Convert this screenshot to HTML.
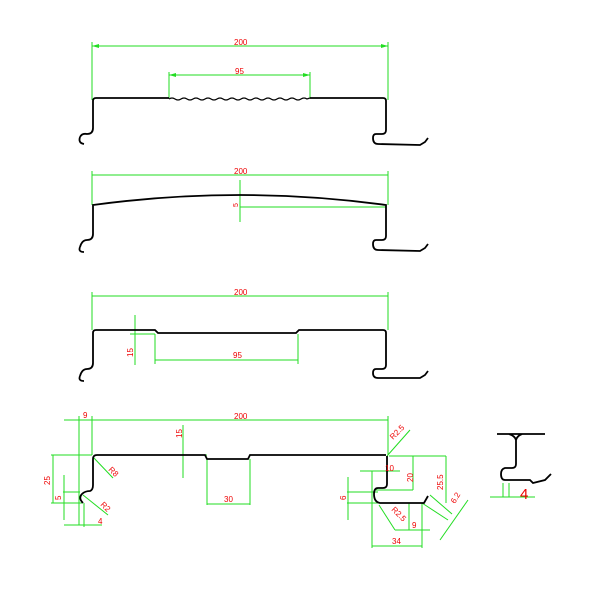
<!DOCTYPE html><html><head><style>body{margin:0;background:#fff}svg{display:block}text{font-family:"Liberation Sans",sans-serif;fill:#e00;font-size:8px}</style></head><body>
<svg width="600" height="600" viewBox="0 0 600 600" xmlns="http://www.w3.org/2000/svg">
<g stroke="#22dd22" stroke-width="1" fill="none">
<line x1="92" y1="46" x2="388" y2="46"/><line x1="92" y1="42" x2="92" y2="100"/><line x1="388" y1="42" x2="388" y2="100"/>
<line x1="169" y1="75" x2="310" y2="75"/><line x1="169" y1="72" x2="169" y2="98"/><line x1="310" y1="72" x2="310" y2="98"/>
<line x1="92" y1="175" x2="388" y2="175"/><line x1="92" y1="171" x2="92" y2="205"/><line x1="388" y1="171" x2="388" y2="205"/>
<line x1="240" y1="180" x2="240" y2="222"/><line x1="240" y1="207" x2="386" y2="207"/>
<line x1="92" y1="296" x2="388" y2="296"/><line x1="92" y1="292" x2="92" y2="330"/><line x1="388" y1="292" x2="388" y2="330"/>
<line x1="135" y1="315" x2="135" y2="365"/><line x1="130" y1="330" x2="155" y2="330"/><line x1="130" y1="334" x2="155" y2="334"/>
<line x1="155" y1="360" x2="298" y2="360"/><line x1="155" y1="334" x2="155" y2="364"/><line x1="298" y1="334" x2="298" y2="364"/>
<line x1="64" y1="420" x2="388" y2="420"/><line x1="79" y1="416" x2="79" y2="525"/><line x1="92" y1="416" x2="92" y2="455"/><line x1="388" y1="416" x2="388" y2="455"/>
<line x1="51" y1="455" x2="92" y2="455"/><line x1="53" y1="455" x2="53" y2="503"/><line x1="51" y1="503" x2="82" y2="503"/>
<line x1="63" y1="492" x2="80" y2="492"/><line x1="64" y1="475" x2="64" y2="520"/>
<line x1="64" y1="525" x2="102" y2="525"/><line x1="84" y1="503" x2="84" y2="527"/>
<line x1="93" y1="457" x2="113" y2="478"/><line x1="83" y1="495" x2="108" y2="515"/>
<line x1="183" y1="425" x2="183" y2="478"/><line x1="183" y1="455" x2="207" y2="455"/>
<line x1="207" y1="459" x2="207" y2="505"/><line x1="250" y1="459" x2="250" y2="505"/><line x1="207" y1="504" x2="250" y2="504"/>
<line x1="387" y1="456" x2="410" y2="430"/>
<line x1="389" y1="456" x2="446" y2="456"/><line x1="413" y1="456" x2="413" y2="490"/><line x1="374" y1="490" x2="413" y2="490"/>
<line x1="446" y1="456" x2="446" y2="503"/>
<line x1="360" y1="471" x2="400" y2="471"/><line x1="372" y1="471" x2="372" y2="548"/>
<line x1="347" y1="492" x2="378" y2="492"/><line x1="347" y1="503" x2="378" y2="503"/><line x1="348" y1="477" x2="348" y2="520"/>
<line x1="379" y1="505" x2="395" y2="530"/><line x1="395" y1="530" x2="430" y2="530"/>
<line x1="409" y1="503" x2="409" y2="530"/><line x1="422" y1="503" x2="422" y2="548"/><line x1="372" y1="546" x2="422" y2="546"/>
<line x1="422" y1="503" x2="448" y2="520"/><line x1="430" y1="495" x2="452" y2="514"/><line x1="440" y1="540" x2="468" y2="500"/>
<line x1="490" y1="497" x2="535" y2="497"/><line x1="503" y1="483" x2="503" y2="497"/><line x1="509" y1="483" x2="509" y2="497"/>
</g>
<g fill="#22dd22">
<path d="M92,46 l7,-2 v4z M388,46 l-7,-2 v4z M169,75 l7,-2 v4z M310,75 l-7,-2 v4z"/>
</g>
<g stroke="#000" stroke-width="1.8" fill="none">
<path d="M80,137 Q82,133 87,134 Q93,134 93,128 L93,101 Q93,98 96,98 L169,98"/>
<path d="M169,99 q3,-2 6,0 t6,0 t6,0 t6,0 t6,0 t6,0 t6,0 t6,0 t6,0 t6,0 t6,0 t6,0 t6,0 t6,0 t6,0 t6,0 t6,0 t6,0 t6,0 t6,0 t6,0 t6,0 t6,0 l3,-1" stroke-width="1.2"/>
<path d="M310,98 L383,98 Q386,98 386,101 L386,130 Q386,134 382,134 L376,134 Q373,134 373,138 Q373,144 378,144 L420,145 L425,142 L428,138"/>
<path d="M80,137 Q78,143 84,144"/>
<path d="M80,247 Q82,240 87,240 Q93,240 93,234 L93,205 Q240,185 386,205 L386,236 Q386,240 382,240 L376,240 Q373,240 373,244 Q373,250 378,250 L420,251 L425,248 L428,244"/>
<path d="M80,247 Q78,252 84,252"/>
<path d="M80,376 Q82,369 87,369 Q93,369 93,363 L93,333 Q93,330 96,330 L155,330 L158,333 L296,333 L299,330 L383,330 Q386,330 386,333 L386,365 Q386,369 382,369 L376,369 Q373,369 373,373 Q373,378 378,378 L420,378 L425,375 L428,371"/>
<path d="M80,376 Q78,381 84,381"/>
<path d="M83,503 Q78,498 82,494 Q85,491 90,491 Q93,490 93,485 L93,459 Q93,455 97,455 L205,455 L207,459 L248,459 L250,455 L386,455"/>
<path d="M387,456 L387,484 Q387,488 383,488 L378,488 Q374,488 374,494 Q374,502 380,503 L409,503 M409,503 L424,503 L428,496"/>
<path d="M497,434 L545,434 M509,434 Q515,436 516,440 Q517,436 522,434 M516,440 L516,464 Q516,468 512,468 L505,468 Q501,469 501,474 Q501,480 505,480 L530,480 L533,483 L545,480 L551,474"/>
</g>
<text x="234" y="45">200</text><text x="235" y="74">95</text>
<text x="234" y="174">200</text><text x="238" y="207" transform="rotate(-90 238 207)" style="font-size:7px">5</text>
<text x="234" y="295">200</text><text x="233" y="358">95</text>
<text x="133" y="357" transform="rotate(-90 133 357)">15</text>
<text x="234" y="419">200</text><text x="83" y="418">9</text>
<text x="50" y="485" transform="rotate(-90 50 485)">25</text><text x="61" y="500" transform="rotate(-90 61 500)">5</text>
<text x="98" y="524">4</text><text x="108" y="470" transform="rotate(45 108 470)">R8</text><text x="100" y="505" transform="rotate(45 100 505)">R2</text>
<text x="182" y="438" transform="rotate(-90 182 438)">15</text><text x="224" y="502">30</text>
<text x="393" y="440" transform="rotate(-45 393 440)">R2.5</text><text x="385" y="471">10</text>
<text x="413" y="482" transform="rotate(-90 413 482)">20</text><text x="443" y="490" transform="rotate(-90 443 490)">25.5</text>
<text x="346" y="500" transform="rotate(-90 346 500)">6</text><text x="391" y="510" transform="rotate(45 391 510)">R2.5</text>
<text x="412" y="528">9</text><text x="392" y="544">34</text><text x="455" y="504" transform="rotate(-60 455 504)">6.2</text>
<text x="520" y="499" style="font-size:15px">4</text>
</svg></body></html>
